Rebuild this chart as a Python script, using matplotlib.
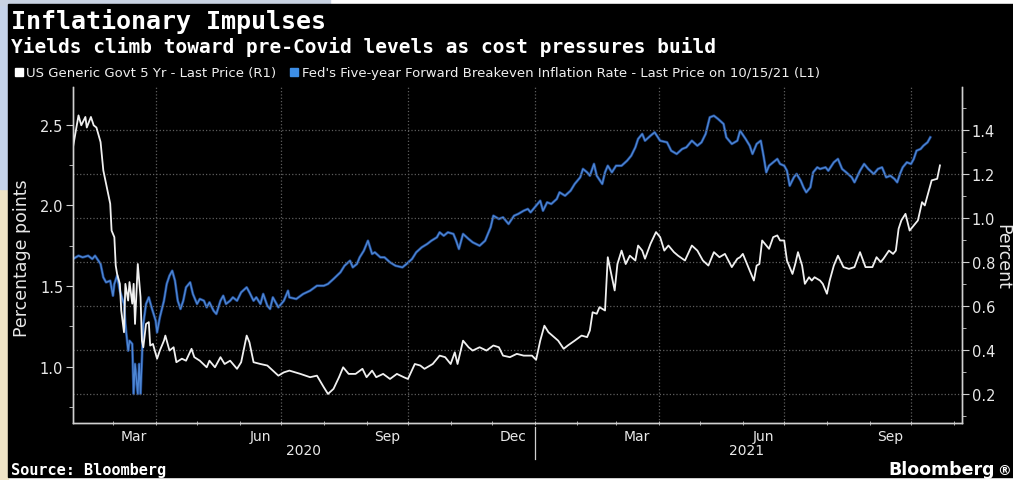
# bloomberg style chart: 5yr yield vs 5y5y breakeven

# libraries
import pandas as pd
import matplotlib.pyplot as plt
from matplotlib.lines import Line2D
from matplotlib.patches import Rectangle
import matplotlib.transforms as mtransforms

# data (days counted from 2020-02-01)
start = pd.Timestamp('2020-02-01')
end = pd.Timestamp('2021-11-07')

govt_days = [0, 4, 6, 9, 10, 13, 15, 17, 20, 22, 24, 27, 28, 30, 31, 32, 34, 35, 37, 38,
             40, 41, 43, 44, 45, 47, 49, 50, 51, 53, 55, 56, 58, 61, 63, 66, 67, 70, 73, 75,
             79, 82, 86, 88, 92, 97, 99, 103, 107, 110, 114, 119, 122, 126, 128, 131, 136, 141, 145, 149,
             153, 157, 165, 172, 177, 182, 185, 189, 193, 196, 200, 205, 210, 213, 217, 220, 225, 230, 235, 240,
             243, 248, 252, 255, 261, 266, 270, 274, 277, 279, 283, 287, 290, 295, 300, 305, 309, 312, 317, 322,
             327, 333, 336, 339, 342, 345, 349, 352, 356, 359, 364, 369, 373, 375, 377, 380, 382, 386, 388, 390,
             393, 395, 398, 401, 404, 408, 410, 413, 415, 419, 423, 426, 429, 432, 436, 439, 444, 449, 453, 457,
             461, 465, 469, 473, 478, 482, 484, 486, 489, 491, 494, 496, 498, 500, 502, 505, 508, 511, 513, 516,
             518, 522, 524, 526, 529, 531, 534, 536, 538, 542, 544, 547, 549, 552, 555, 559, 563, 567, 571, 575,
             580, 583, 586, 588, 592, 595, 597, 599, 601, 604, 607, 610, 613, 616, 618, 621, 623, 627, 629]
govt_yield = [1.321, 1.465, 1.42, 1.458, 1.41, 1.458, 1.42, 1.41, 1.344, 1.215, 1.155, 1.064, 0.942, 0.912, 0.783, 0.745, 0.70, 0.579, 0.48, 0.70,
              0.624, 0.708, 0.61, 0.70, 0.518, 0.79, 0.64, 0.442, 0.412, 0.518, 0.526, 0.42, 0.427, 0.36, 0.397, 0.442, 0.465, 0.397, 0.412, 0.344,
              0.36, 0.351, 0.405, 0.367, 0.351, 0.321, 0.351, 0.321, 0.367, 0.336, 0.351, 0.314, 0.344, 0.465, 0.435, 0.344, 0.336, 0.329, 0.306, 0.283,
              0.298, 0.306, 0.291, 0.276, 0.283, 0.23, 0.20, 0.223, 0.276, 0.321, 0.291, 0.291, 0.314, 0.276, 0.306, 0.276, 0.291, 0.268, 0.291, 0.276,
              0.268, 0.336, 0.329, 0.314, 0.336, 0.374, 0.367, 0.336, 0.389, 0.336, 0.442, 0.412, 0.397, 0.412, 0.397, 0.42, 0.412, 0.374, 0.367, 0.382,
              0.374, 0.374, 0.355, 0.442, 0.51, 0.48, 0.458, 0.442, 0.405, 0.42, 0.442, 0.465, 0.458, 0.488, 0.571, 0.564, 0.594, 0.579, 0.821, 0.76,
              0.67, 0.79, 0.851, 0.79, 0.828, 0.806, 0.874, 0.851, 0.814, 0.882, 0.935, 0.912, 0.851, 0.874, 0.844, 0.828, 0.806, 0.874, 0.851, 0.806,
              0.783, 0.844, 0.821, 0.836, 0.776, 0.814, 0.821, 0.836, 0.79, 0.76, 0.715, 0.783, 0.79, 0.897, 0.882, 0.859, 0.912, 0.92, 0.897, 0.897,
              0.806, 0.745, 0.79, 0.844, 0.783, 0.70, 0.73, 0.715, 0.73, 0.715, 0.70, 0.655, 0.715, 0.783, 0.828, 0.776, 0.768, 0.776, 0.844, 0.776,
              0.776, 0.821, 0.799, 0.814, 0.851, 0.836, 0.851, 0.95, 0.988, 1.018, 0.942, 0.965, 0.988, 1.071, 1.056, 1.124, 1.17, 1.177, 1.238]

be_days = [0, 4, 7, 11, 14, 16, 20, 22, 24, 27, 29, 30, 32, 34, 37, 38, 39, 40, 41, 43,
           44, 45, 47, 48, 49, 51, 53, 55, 57, 60, 61, 63, 66, 68, 70, 72, 74, 76, 78, 80,
           82, 85, 87, 90, 92, 95, 97, 99, 102, 104, 107, 109, 111, 114, 116, 119, 122, 126, 128, 131,
           133, 136, 138, 141, 143, 145, 149, 153, 156, 157, 162, 167, 172, 177, 182, 185, 189, 194, 197, 201,
           203, 206, 208, 211, 214, 217, 219, 223, 226, 230, 234, 239, 242, 246, 249, 253, 257, 260, 264, 266,
           269, 272, 276, 278, 280, 283, 287, 290, 295, 299, 303, 305, 309, 312, 316, 320, 323, 327, 330, 332,
           335, 339, 341, 344, 347, 351, 353, 357, 361, 364, 368, 370, 373, 375, 378, 380, 384, 386, 388, 391,
           394, 398, 402, 405, 408, 410, 413, 415, 419, 422, 426, 431, 434, 438, 442, 445, 449, 453, 456, 459,
           462, 465, 468, 472, 474, 478, 482, 484, 488, 491, 493, 496, 499, 501, 503, 505, 508, 511, 513, 516,
           518, 520, 523, 525, 528, 530, 532, 535, 537, 540, 542, 546, 548, 552, 555, 558, 561, 565, 567, 571,
           574, 577, 581, 584, 587, 590, 593, 596, 598, 600, 602, 605, 608, 610, 612, 615, 617, 620, 622]
be_rate = [1.668, 1.688, 1.678, 1.688, 1.668, 1.688, 1.637, 1.554, 1.523, 1.533, 1.44, 1.513, 1.564, 1.471, 1.389, 1.265, 1.182, 1.099, 1.161, 1.141,
           0.831, 1.017, 0.831, 1.017, 0.831, 1.265, 1.389, 1.43, 1.368, 1.285, 1.213, 1.306, 1.409, 1.513, 1.564, 1.595, 1.533, 1.409, 1.358, 1.409,
           1.492, 1.523, 1.451, 1.389, 1.42, 1.409, 1.368, 1.399, 1.347, 1.327, 1.409, 1.44, 1.389, 1.409, 1.43, 1.409, 1.461, 1.492, 1.461, 1.409,
           1.43, 1.389, 1.451, 1.378, 1.358, 1.43, 1.368, 1.409, 1.471, 1.43, 1.42, 1.451, 1.471, 1.502, 1.502, 1.513, 1.544, 1.585, 1.626, 1.657,
           1.616, 1.637, 1.678, 1.719, 1.781, 1.699, 1.709, 1.678, 1.678, 1.647, 1.626, 1.616, 1.637, 1.668, 1.709, 1.74, 1.761, 1.781, 1.802, 1.833,
           1.812, 1.833, 1.823, 1.781, 1.73, 1.823, 1.792, 1.771, 1.75, 1.781, 1.864, 1.936, 1.916, 1.926, 1.885, 1.936, 1.947, 1.967, 1.978, 1.957,
           1.988, 2.029, 1.967, 2.019, 2.009, 2.04, 2.081, 2.06, 2.091, 2.133, 2.174, 2.226, 2.205, 2.184, 2.257, 2.184, 2.133, 2.205, 2.246, 2.205,
           2.246, 2.246, 2.277, 2.308, 2.36, 2.412, 2.443, 2.401, 2.432, 2.453, 2.401, 2.391, 2.339, 2.319, 2.35, 2.36, 2.401, 2.37, 2.391, 2.443,
           2.546, 2.556, 2.536, 2.505, 2.422, 2.381, 2.401, 2.463, 2.412, 2.37, 2.319, 2.381, 2.401, 2.308, 2.205, 2.246, 2.267, 2.288, 2.257, 2.246,
           2.215, 2.122, 2.174, 2.195, 2.153, 2.112, 2.081, 2.112, 2.205, 2.236, 2.226, 2.236, 2.215, 2.267, 2.288, 2.226, 2.205, 2.174, 2.143, 2.215,
           2.257, 2.226, 2.195, 2.226, 2.236, 2.174, 2.184, 2.164, 2.143, 2.195, 2.236, 2.267, 2.257, 2.288, 2.339, 2.35, 2.37, 2.391, 2.422]

month_labels = ['Mar', 'Jun', 'Sep', 'Dec', 'Mar', 'Jun', 'Sep']
month_label_dates = ['2020-03-16', '2020-06-16', '2020-09-16', '2020-12-16', '2021-03-16', '2021-06-16', '2021-09-16']
quarter_dates = ['2020-04-01', '2020-07-01', '2020-10-01', '2021-01-01', '2021-04-01', '2021-07-01', '2021-10-01']
years = ['2020', '2021']
year_dates = ['2020-07-17', '2021-06-04']

left_ticks = [1.0, 1.5, 2.0, 2.5]
right_ticks = [0.2, 0.4, 0.6, 0.8, 1.0, 1.2, 1.4]

govt_dates = start + pd.to_timedelta(govt_days, unit='D')
be_dates = start + pd.to_timedelta(be_days, unit='D')

# figure and dark background (patches kept behind the axes)
W, H = 1013, 481
fig = plt.figure(figsize=(W / 100, H / 100), dpi=100, facecolor='white')
fig.patches.append(Rectangle((0, 0), 8 / W, 1, transform=fig.transFigure, color='#eee3c6', zorder=-3))
fig.patches.append(Rectangle((0, 1 - 190 / H), 8 / W, 190 / H, transform=fig.transFigure, color='#c6d3ea', zorder=-3))
fig.patches.append(Rectangle((0, 1 - 6 / H), 330 / W, 6 / H, transform=fig.transFigure, color='#c9d3e3', zorder=-3))
fig.patches.append(Rectangle((8 / W, 3 / H), 1, 1 - 8 / H, transform=fig.transFigure, color='black', zorder=-2))

ax = fig.add_axes([73 / W, 1 - 424 / H, (962 - 73) / W, (424 - 88) / H])
ax.set_facecolor('black')
ax2 = ax.twinx()

grey = '#d0d0d0'
gridc = '#5e5e5e'

# lines
ax.plot(be_dates, be_rate, color='#1a3f80', lw=2.0, solid_joinstyle='round')
ax.plot(be_dates, be_rate, color='#4d86d4', lw=1.0, solid_joinstyle='round')
ax2.plot(govt_dates, govt_yield, color='#f0f0f0', lw=1.3, solid_joinstyle='round')

# axes limits
ax.set_xlim(start, end)
ax.set_ylim(0.651, 2.734)
ax2.set_ylim(0.068, 1.594)

# grid
for q in quarter_dates:
    ax.axvline(pd.Timestamp(q), color=gridc, ls=':', lw=0.9, zorder=0)
for r in right_ticks:
    ax2.axhline(r, color=gridc, ls=':', lw=0.9, zorder=0)

# spines
for a in (ax, ax2):
    a.spines['top'].set_visible(False)
    for s in ('left', 'right', 'bottom'):
        a.spines[s].set_color(grey)
        a.spines[s].set_linewidth(1.0)

# y ticks
ax.set_yticks(left_ticks)
ax.set_yticks([0.75, 1.25, 1.75, 2.25], minor=True)
ax.yaxis.set_major_formatter(plt.FormatStrFormatter('%.1f'))
ax.tick_params(axis='y', which='major', direction='out', length=5, color=grey, labelcolor='#e8e8e8', labelsize=10.5, pad=2)
ax.tick_params(axis='y', which='minor', direction='out', length=3, color=grey)

ax2.set_yticks(right_ticks)
ax2.set_yticks([0.1, 0.3, 0.5, 0.7, 0.9, 1.1, 1.3, 1.5], minor=True)
ax2.yaxis.set_major_formatter(plt.FormatStrFormatter('%.1f'))
ax2.tick_params(axis='y', which='major', direction='out', length=5, color=grey, labelcolor='#e8e8e8', labelsize=10.5, pad=2)
ax2.tick_params(axis='y', which='minor', direction='out', length=3, color=grey)

# x ticks: month marks plus labels centred in the month
ax.set_xticks(pd.to_datetime(month_label_dates))
ax.set_xticklabels(month_labels)
ax.set_xticks(pd.date_range('2020-03-01', '2021-11-01', freq='MS'), minor=True)
ax.tick_params(axis='x', which='major', length=0, labelcolor='#e8e8e8', labelsize=10, pad=4)
ax.tick_params(axis='x', which='minor', direction='inout', length=3, color=grey)

# year labels and divider
trans = mtransforms.blended_transform_factory(ax.transData, ax.transAxes)
for yl, yd in zip(years, year_dates):
    ax.text(pd.Timestamp(yd), -0.080, yl, transform=trans, ha='center', va='center', color='#e8e8e8', fontsize=10)
ax.plot([pd.Timestamp('2021-01-01')] * 2, [-0.012, -0.107], transform=trans, color=grey, lw=0.9, clip_on=False)

# axis labels
fig.text(22 / W, 1 - 258 / H, 'Percentage points', rotation=90, ha='center', va='center', color='#e8e8e8', fontsize=12.5)
fig.text(1002 / W, 1 - 257 / H, 'Percent', rotation=270, ha='center', va='center', color='#e8e8e8', fontsize=12.5)

# titles
fig.text(11 / W, 1 - 29 / H, 'Inflationary Impulses', family='DejaVu Sans Mono', weight='bold', fontsize=18, color='white', va='baseline')
fig.text(11 / W, 1 - 53 / H, 'Yields climb toward pre-Covid levels as cost pressures build', family='DejaVu Sans Mono', weight='bold', fontsize=14, color='white', va='baseline')

# legend
handles = [Line2D([], [], marker='s', ls='none', color='white', markersize=6),
           Line2D([], [], marker='s', ls='none', color='#3d8ee6', markersize=6)]
labels = ['US Generic Govt 5 Yr - Last Price (R1)',
          "Fed's Five-year Forward Breakeven Inflation Rate - Last Price on 10/15/21 (L1)"]
fig.legend(handles, labels, loc='center left', bbox_to_anchor=(8 / W, 1 - 74 / H), ncol=2, frameon=False,
           fontsize=9.5, labelcolor='#f0f0f0', handlelength=0.6, handletextpad=0.3, columnspacing=1.0, borderpad=0)

# footer
fig.text(11 / W, 1 - 475 / H, 'Source: Bloomberg', family='DejaVu Sans Mono', weight='bold', fontsize=11, color='white', va='baseline')
fig.text(995 / W, 1 - 475 / H, 'Bloomberg', weight='bold', fontsize=12.5, color='white', va='baseline', ha='right')
fig.text(997 / W, 1 - 475 / H, '\u00ae', weight='bold', fontsize=10, color='white', va='baseline', ha='left')

plt.savefig('out.png', dpi=100, facecolor=fig.get_facecolor())
